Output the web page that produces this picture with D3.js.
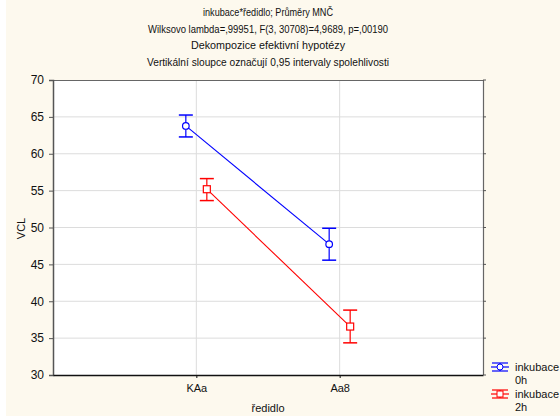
<!DOCTYPE html>
<html>
<head>
<meta charset="utf-8">
<script src="https://cdn.jsdelivr.net/npm/d3@7"></script>
<style>
  body { margin: 0; background: #fff; }
  text { font-family: "Liberation Sans", Arial, sans-serif; fill: #111; }
</style>
</head>
<body>
<div id="chart"></div>
<script>
// data
const categories = ['KAa', 'Aa8'];
const seriesNames = ['inkubace\n0h', 'inkubace\n2h'];
const means0h = [63.77, 47.74];
const lower0h = [62.28, 45.57];
const upper0h = [65.25, 49.90];
const means2h = [55.19, 36.57];
const lower2h = [53.65, 34.36];
const upper2h = [56.63, 38.80];
const yTicks = [30, 35, 40, 45, 50, 55, 60, 65, 70];
const titleLines = [
  'inkubace*ředidlo; Průměry MNČ',
  'Wilksovo lambda=,99951, F(3, 30708)=4,9689, p=,00190',
  'Dekompozice efektivní hypotézy',
  'Vertikální sloupce označují 0,95 intervaly spolehlivosti'
];

const W = 560, H = 416;
const m = { left: 53, right: 77, top: 80, bottom: 41 };

const series = [
  { name: seriesNames[0], color: '#0000ff', shape: 'circle', off: -10.5, mean: means0h, lo: lower0h, hi: upper0h },
  { name: seriesNames[1], color: '#ff0000', shape: 'square', off: 10.5, mean: means2h, lo: lower2h, hi: upper2h }
];

const svg = d3.select('#chart').append('svg')
  .attr('width', W).attr('height', H);

// cream background
svg.append('rect').attr('x', 6).attr('y', 0)
  .attr('width', W - 6).attr('height', H).attr('fill', '#fdf9ee');

const x = d3.scalePoint().domain(categories).range([m.left, W - m.right]).padding(1);
const y = d3.scaleLinear().domain([30, 70]).range([H - m.bottom, m.top]);

// plot area
svg.append('rect')
  .attr('x', m.left).attr('y', m.top)
  .attr('width', W - m.left - m.right).attr('height', H - m.top - m.bottom)
  .attr('fill', '#fff');

// gridlines
svg.append('g').selectAll('line').data(yTicks.slice(1, -1)).join('line')
  .attr('x1', m.left).attr('x2', W - m.right)
  .attr('y1', d => y(d)).attr('y2', d => y(d))
  .attr('stroke', '#dcdcdc').attr('stroke-width', 1);
svg.append('g').selectAll('line').data(categories).join('line')
  .attr('x1', d => x(d)).attr('x2', d => x(d))
  .attr('y1', m.top).attr('y2', H - m.bottom)
  .attr('stroke', '#dcdcdc').attr('stroke-width', 1);

// frame
svg.append('line').attr('x1', m.left).attr('x2', W - m.right)
  .attr('y1', m.top + 0.5).attr('y2', m.top + 0.5).attr('stroke', '#666');
svg.append('line').attr('x1', W - m.right + 0.5).attr('x2', W - m.right + 0.5)
  .attr('y1', m.top).attr('y2', H - m.bottom).attr('stroke', '#666').attr('stroke-width', 1.2);

// axes
const yAxis = svg.append('g').attr('transform', `translate(${m.left},0)`)
  .call(d3.axisLeft(y).tickValues(yTicks).tickSize(4).tickPadding(5));
yAxis.select('.domain').attr('stroke', '#555').attr('stroke-width', 1.5);
yAxis.selectAll('.tick line').attr('stroke', '#555');
yAxis.selectAll('text').attr('font-size', 12).attr('fill', '#111');

const xAxis = svg.append('g').attr('transform', `translate(0,${H - m.bottom})`)
  .call(d3.axisBottom(x).tickSize(3).tickSizeOuter(0).tickPadding(6));
xAxis.select('.domain').attr('stroke', '#111').attr('stroke-width', 1.5);
xAxis.selectAll('.tick line').attr('stroke', '#111');
xAxis.selectAll('text').attr('font-size', 11).attr('fill', '#111');

// right side ticks
svg.append('g').selectAll('line').data(yTicks).join('line')
  .attr('x1', W - m.right).attr('x2', W - m.right + 3)
  .attr('y1', d => y(d)).attr('y2', d => y(d)).attr('stroke', '#555');

// titles
svg.append('g').selectAll('text').data(titleLines).join('text')
  .attr('x', (m.left + W - m.right) / 2)
  .attr('y', (d, i) => 16 + i * 16.5)
  .attr('text-anchor', 'middle').attr('font-size', 10.5)
  .attr('textLength', (d, i) => [130, 240, 154, 242][i])
  .attr('lengthAdjust', 'spacingAndGlyphs')
  .text(d => d);

svg.append('text')
  .attr('transform', `translate(25,${(m.top + H - m.bottom) / 2 + 1}) rotate(-90)`)
  .attr('text-anchor', 'middle').attr('font-size', 11).text('VCL');
svg.append('text')
  .attr('x', (m.left + W - m.right) / 2).attr('y', 412)
  .attr('text-anchor', 'middle').attr('font-size', 11).text('ředidlo');

// series
const line = d3.line();
series.forEach(s => {
  const g = svg.append('g');
  const pts = categories.map((c, i) => [x(c) + s.off, y(s.mean[i])]);
  g.append('path').attr('d', line(pts)).attr('fill', 'none')
    .attr('stroke', s.color).attr('stroke-width', 1.1);
  categories.forEach((c, i) => {
    const cx = x(c) + s.off;
    g.append('line').attr('x1', cx).attr('x2', cx)
      .attr('y1', y(s.lo[i])).attr('y2', y(s.hi[i])).attr('stroke', s.color).attr('stroke-width', 1.2);
    [s.lo[i], s.hi[i]].forEach(v => {
      g.append('line').attr('x1', cx - 7).attr('x2', cx + 7)
        .attr('y1', y(v)).attr('y2', y(v)).attr('stroke', s.color).attr('stroke-width', 1.5);
    });
    if (s.shape === 'circle') {
      g.append('circle').attr('cx', cx).attr('cy', y(s.mean[i])).attr('r', 3.3)
        .attr('fill', '#fff').attr('stroke', s.color).attr('stroke-width', 1.2);
    } else {
      g.append('rect').attr('x', cx - 3.5).attr('y', y(s.mean[i]) - 3.5)
        .attr('width', 7).attr('height', 7)
        .attr('fill', '#fff').attr('stroke', s.color).attr('stroke-width', 1.2);
    }
  });
});

// legend
const leg = svg.append('g');
series.forEach((s, i) => {
  const ly = 367 + i * 27, lx = 500;
  leg.append('line').attr('x1', lx - 9).attr('x2', lx + 9).attr('y1', ly).attr('y2', ly)
    .attr('stroke', s.color).attr('stroke-width', 1.2);
  leg.append('line').attr('x1', lx - 8).attr('x2', lx + 8).attr('y1', ly - 4).attr('y2', ly - 4)
    .attr('stroke', s.color).attr('stroke-width', 1.2);
  leg.append('line').attr('x1', lx - 8).attr('x2', lx + 8).attr('y1', ly + 4).attr('y2', ly + 4)
    .attr('stroke', s.color).attr('stroke-width', 1.2);
  leg.append('line').attr('x1', lx).attr('x2', lx).attr('y1', ly - 4).attr('y2', ly + 4)
    .attr('stroke', s.color).attr('stroke-width', 1.2);
  if (s.shape === 'circle') {
    leg.append('circle').attr('cx', lx).attr('cy', ly).attr('r', 3)
      .attr('fill', '#fff').attr('stroke', s.color);
  } else {
    leg.append('rect').attr('x', lx - 3).attr('y', ly - 3).attr('width', 6).attr('height', 6)
      .attr('fill', '#fff').attr('stroke', s.color);
  }
  const t = leg.append('text').attr('x', 515).attr('y', ly + 4).attr('font-size', 11);
  s.name.split('\n').forEach((part, k) => {
    t.append('tspan').attr('x', 515).attr('dy', k === 0 ? 0 : 13).text(part);
  });
});
</script>
</body>
</html>
